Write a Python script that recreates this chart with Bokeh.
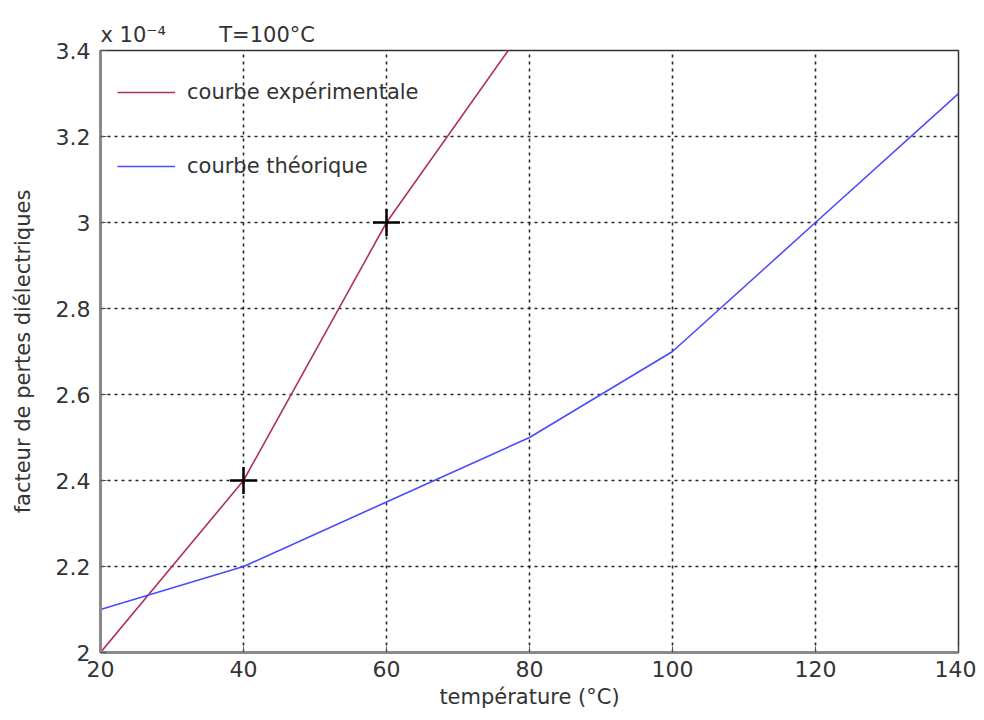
from bokeh.plotting import figure
from bokeh.models import (FixedTicker, Legend, LegendItem, Range1d,
                          CustomJSTickFormatter, Title)
from bokeh.embed import file_html
from bokeh.resources import INLINE

# Data (y values in units of 1e-4)
temp_exp = [20, 40, 60, 80]
exp_vals = [2.0, 2.4, 3.0, 3.47]
temp_theo = [20, 40, 60, 80, 100, 120, 140]
theo_vals = [2.1, 2.2, 2.35, 2.5, 2.7, 3.0, 3.3]
mark_t = [40, 60]
mark_v = [2.4, 3.0]
x_ticks = [20, 40, 60, 80, 100, 120, 140]
y_ticks = [2.0, 2.2, 2.4, 2.6, 2.8, 3.0, 3.2, 3.4]

FONT = "DejaVu Sans"
RED = "#b0305c"
BLUE = "#4a4aff"
TXT = "#333333"

p = figure(width=976, height=712, output_backend="svg", toolbar_location=None,
           x_range=Range1d(20, 140), y_range=Range1d(2.0, 3.4),
           min_border_left=100, min_border_right=18, min_border_top=50,
           min_border_bottom=60)
p.background_fill_color = "white"
p.border_fill_color = "white"
p.outline_line_color = "#333333"
p.outline_line_width = 1.5

title_text = "x 10\u207b\u2074" + "\u00a0" * 8 + "T=100°C"
p.title = Title(text=title_text, align="left", offset=0,
                standoff=8, text_font=FONT, text_font_size="21px",
                text_font_style="normal", text_color=TXT)

for ax in (p.xaxis[0], p.yaxis[0]):
    ax.axis_line_color = "#8a8a8a"
    ax.axis_line_width = 3
    ax.major_tick_in = 6
    ax.major_tick_out = 0
    ax.minor_tick_line_color = None
    ax.major_tick_line_color = "#555555"
    ax.major_label_text_font = FONT
    ax.major_label_text_font_size = "22px"
    ax.major_label_text_color = TXT
    ax.axis_label_text_font = FONT
    ax.axis_label_text_font_style = "normal"
    ax.axis_label_text_color = TXT

p.xaxis.ticker = FixedTicker(ticks=x_ticks)
p.yaxis.ticker = FixedTicker(ticks=y_ticks)
p.yaxis.formatter = CustomJSTickFormatter(code="return String(Math.round(tick*10)/10);")
p.xaxis.axis_label = "température (°C)"
p.xaxis.axis_label_text_font_size = "21px"
p.xaxis.axis_label_standoff = 5
p.xaxis.major_label_standoff = 8
p.yaxis.axis_label = "facteur de pertes diélectriques"
p.yaxis.axis_label_text_font_size = "21px"
p.yaxis.axis_label_standoff = 18
p.yaxis.major_label_standoff = 10

for g in (p.xgrid[0], p.ygrid[0]):
    g.grid_line_color = "black"
    g.grid_line_dash = "3 4"
    g.grid_line_width = 1.6
    g.grid_line_alpha = 0.85

r_exp = p.line(temp_exp, exp_vals, line_color=RED, line_width=1.6)
r_theo = p.line(temp_theo, theo_vals, line_color=BLUE, line_width=1.6)
p.scatter(mark_t, mark_v, marker="cross", size=27, line_color="black",
          line_width=2.5)

legend = Legend(items=[LegendItem(label="courbe expérimentale", renderers=[r_exp]),
                       LegendItem(label="courbe théorique", renderers=[r_theo])],
                location=(17, 474), margin=0, padding=0, spacing=50,
                label_height=20, glyph_height=20, glyph_width=58,
                label_standoff=12, border_line_color=None,
                background_fill_alpha=0, label_text_font=FONT,
                label_text_font_size="21px", label_text_color=TXT)
p.add_layout(legend)

open("out.html", "w").write(file_html(p, INLINE))
